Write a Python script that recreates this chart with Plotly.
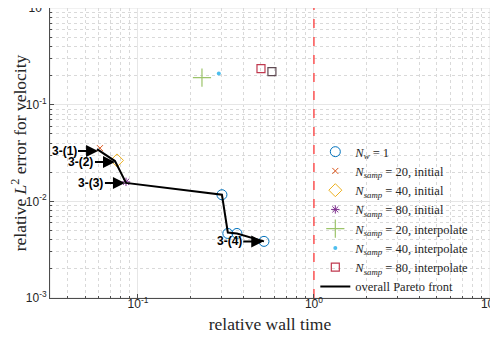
import math
import plotly.graph_objects as go

# overall Pareto front
pareto_x = [0.0585, 0.0740, 0.0855, 0.300, 0.324, 0.365, 0.520]
pareto_y = [0.0347, 0.0261, 0.0155, 0.0117, 0.00476, 0.00465, 0.00385]

# N_w = 1
nw1_x = [0.300, 0.324, 0.365, 0.520]
nw1_y = [0.0117, 0.00465, 0.00465, 0.00385]

# initial sampling
init20_x, init20_y = [0.0608], [0.0355]
init40_x, init40_y = [0.0760], [0.0265]
init80_x, init80_y = [0.0855], [0.0159]

# interpolated sampling
interp20_x, interp20_y = [0.231], [0.191]
interp40_x, interp40_y = [0.288], [0.210]
interp80_x, interp80_y = [0.500], [0.236]
extra_x, extra_y = [0.577], [0.220]

# reference wall time
ref_time = 1.0

# arrow labels
ann_labels = ["3-(1)", "3-(2)", "3-(3)", "3-(4)"]
ann_x = [0.0593, 0.0740, 0.0843, 0.515]
ann_y = [0.0331, 0.0255, 0.0155, 0.00385]

# tick labels
x_tickvals = [0.1, 1, 10]
x_ticktext = ["10<sup>-1</sup>", "10<sup>0</sup>", "10<sup>1</sup>"]
y_tickvals = [0.001, 0.01, 0.1, 1]
y_ticktext = ["10<sup>-3</sup>", "10<sup>-2</sup>", "10<sup>-1</sup>", "10<sup>0</sup>"]

serif = "Liberation Serif"
sans = "Liberation Sans"


def sub(n):
    return "<i>N</i><sub><i>samp</i></sub> = " + n


def minor_vals(lo, hi):
    # 2..9 times each decade
    return [m * 10 ** e for e in range(lo, hi) for m in range(2, 10)]


fig = go.Figure()

fig.add_trace(go.Scatter(
    x=[ref_time, ref_time], y=[1e-3, 1], mode="lines",
    line=dict(color="#ff3b3b", width=1.3, dash="dash"), showlegend=False
))

fig.add_trace(go.Scatter(
    x=nw1_x, y=nw1_y, mode="markers", name="<i>N</i><sub><i>w</i></sub> = 1",
    marker=dict(symbol="circle-open", size=10, color="#0072BD", line=dict(width=1))
))
fig.add_trace(go.Scatter(
    x=init20_x, y=init20_y, mode="markers", name=sub("20, initial"),
    marker=dict(symbol="x-thin-open", size=6, color="#D95319", line=dict(width=1))
))
fig.add_trace(go.Scatter(
    x=init40_x, y=init40_y, mode="markers", name=sub("40, initial"),
    marker=dict(symbol="diamond-open", size=10, color="#EDB120", line=dict(width=1))
))
fig.add_trace(go.Scatter(
    x=init80_x, y=init80_y, mode="markers", name=sub("80, initial"),
    marker=dict(symbol="asterisk-open", size=7, color="#7E2F8E", line=dict(width=1))
))
fig.add_trace(go.Scatter(
    x=interp20_x, y=interp20_y, mode="markers", name=sub("20, interpolate"),
    marker=dict(symbol="cross-thin-open", size=13, color="#9cc46a", line=dict(width=1.2))
))
fig.add_trace(go.Scatter(
    x=interp40_x, y=interp40_y, mode="markers", name=sub("40, interpolate"),
    marker=dict(symbol="circle", size=4, color="#4DBEEE")
))
fig.add_trace(go.Scatter(
    x=interp80_x, y=interp80_y, mode="markers", name=sub("80, interpolate"),
    marker=dict(symbol="square-open", size=8, color="#c0394f", line=dict(width=1.2))
))
fig.add_trace(go.Scatter(
    x=extra_x, y=extra_y, mode="markers", showlegend=False,
    marker=dict(symbol="square-open", size=8, color="#5f4a52", line=dict(width=1.2))
))
fig.add_trace(go.Scatter(
    x=pareto_x, y=pareto_y, mode="lines", name="overall Pareto front",
    line=dict(color="black", width=2)
))

# annotations on log axes take log10 positions
for lab, ax_, ay_ in zip(ann_labels, ann_x, ann_y):
    fig.add_annotation(
        x=math.log10(ax_), y=math.log10(ay_), xref="x", yref="y",
        text="<b>" + lab + "</b>",
        showarrow=True, ax=-34, ay=0, arrowhead=2, arrowsize=1.2, arrowwidth=2,
        arrowcolor="black", standoff=0,
        font=dict(family=sans, size=12, color="black")
    )

# light box on top/right
fig.add_shape(type="rect", xref="paper", yref="paper", x0=0, y0=0, x1=1, y1=1,
              line=dict(color="#e3e3e3", width=1), layer="below")

axis_common = dict(
    type="log", showline=True, linecolor="#4d4d4d", linewidth=1,
    ticks="inside", ticklen=4, tickcolor="#4d4d4d", automargin=False,
    ticklabeloverflow="allow",
    showgrid=True, gridcolor="#e6e6e6", gridwidth=1, zeroline=False,
    tickfont=dict(family=sans, size=12, color="#262626"),
)
minor_common = dict(ticks="inside", ticklen=2, tickcolor="#4d4d4d", showgrid=True,
                    gridcolor="#d9d9d9", griddash="dot", gridwidth=1)

# page body adds an 8px offset, so the figure is sized 8px smaller
fig.update_layout(
    width=490, height=329,
    margin=dict(l=42, r=8, t=0, b=39),
    paper_bgcolor="white", plot_bgcolor="white",
    xaxis=dict(axis_common, range=[-1.5, 1.0005],
               tickvals=x_tickvals, ticktext=x_ticktext, ticklabelstandoff=-5,
               minor=dict(minor_common, tickvals=minor_vals(-2, 1)),
               title=dict(text="relative wall time", standoff=7,
                          font=dict(family=serif, size=17.5, color="#262626"))),
    yaxis=dict(axis_common, range=[-3.0005, 0.0005],
               tickvals=y_tickvals, ticktext=y_ticktext,
               minor=dict(minor_common, tickvals=minor_vals(-3, 0)),
               title=dict(text="relative <i>L</i><sup>2</sup> error for velocity", standoff=0,
                          font=dict(family=serif, size=17.5, color="#262626"))),
    legend=dict(x=0.603, y=0.555, xanchor="left", yanchor="top",
                bgcolor="rgba(0,0,0,0)", borderwidth=0, tracegroupgap=0,
                font=dict(family=serif, size=12.5, color="#262626")),
    showlegend=True,
)

fig.write_html("out.html")
